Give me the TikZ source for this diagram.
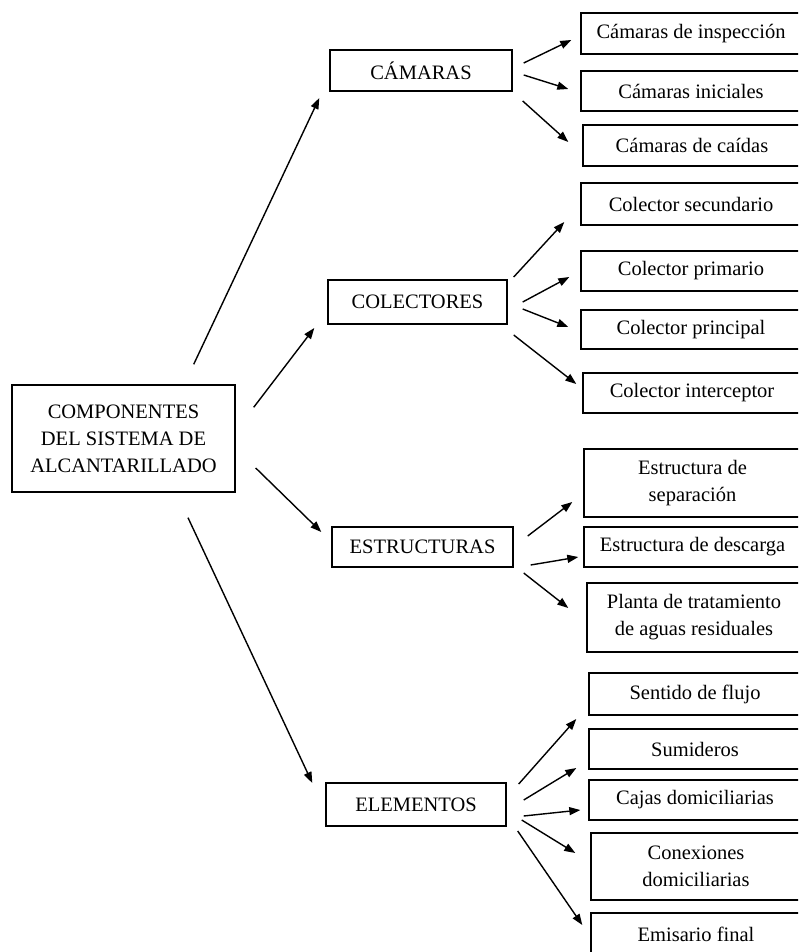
\documentclass[tikz,border=0pt]{standalone}
\usepackage{fontspec}
\setmainfont{Liberation Serif}
\usetikzlibrary{arrows.meta,calc}
\begin{document}
\begin{tikzpicture}[x=1pt,y=-1pt,
  box/.style={draw, line width=1.4pt, align=center, inner sep=0pt,
    font=\fontsize{20.5}{27}\selectfont},
  arr/.style={line width=1.4pt, -{Triangle[length=11pt,width=8pt]}}]
\useasboundingbox (0,0) rectangle (798,952);
\clip (0,0) rectangle (798,952);
% main
\node[box, minimum width=223pt, minimum height=107pt] (main) at (123.5,438.5)
  {COMPONENTES\\DEL SISTEMA DE\\ALCANTARILLADO};
% categories
\node[box, minimum width=182pt, minimum height=41pt] (cam) at (421,70.5) {CÁMARAS};
\node[box, minimum width=179pt, minimum height=44pt] (col) at (417.5,302) {COLECTORES};
\node[box, minimum width=181pt, minimum height=40pt] (est) at (422.5,547) {ESTRUCTURAS};
\node[box, minimum width=180pt, minimum height=43pt] (ele) at (416,804.5) {ELEMENTOS};
% right boxes
\node[box, minimum width=220pt, minimum height=41pt] (r1) at (691,33.5) {Cámaras de inspección};
\node[box, minimum width=220pt, minimum height=40pt] (r2) at (691,91) {Cámaras iniciales};
\node[box, minimum width=218pt, minimum height=41pt] (r3) at (692,145.5) {Cámaras de caídas};
\node[box, minimum width=220pt, minimum height=42pt] (r4) at (691,204) {Colector secundario};
\node[box, minimum width=220pt, minimum height=40pt] (r5) at (691,271) {Colector primario};
\node[box, minimum width=220pt, minimum height=39pt] (r6) at (691,329.5) {Colector principal};
\node[box, minimum width=218pt, minimum height=40pt] (r7) at (692,393) {Colector interceptor};
\node[box, minimum width=217pt, minimum height=68pt] (r8) at (692.5,483) {Estructura de\\separación};
\node[box, minimum width=217pt, minimum height=40pt] (r9) at (692.5,547) {Estructura de descarga};
\node[box, minimum width=214pt, minimum height=69pt] (r10) at (694,617.5) {Planta de tratamiento\\de aguas residuales};
\node[box, minimum width=212pt, minimum height=42pt] (r11) at (695,694) {Sentido de flujo};
\node[box, minimum width=212pt, minimum height=40pt] (r12) at (695,749) {Sumideros};
\node[box, minimum width=212pt, minimum height=40pt] (r13) at (695,800) {Cajas domiciliarias};
\node[box, minimum width=210pt, minimum height=67pt] (r14) at (696,866.5) {Conexiones\\domiciliarias};
\node[box, minimum width=210pt, minimum height=42pt] (r15) at (696,934) {Emisario final};
% arrows from main
\draw[arr] ($(main.north east)+(-42,-20)$) -- ($(cam.west)+(-10,27.5)$);
\draw[arr] ($(main.north east)+(18,23)$) -- ($(col.west)+(-13,26)$);
\draw[arr] ($(main.east)+(20,29.5)$) -- ($(est.west)+(-10,-15)$);
\draw[arr] ($(main.south)+(64.5,25)$) -- ($(ele.west)+(-13,-21.5)$);
% camaras
\draw[arr] ($(cam.east)+(11,-7.5)$) -- ($(r1.west)+(-9,6.5)$);
\draw[arr] ($(cam.east)+(11,4.5)$) -- ($(r2.west)+(-12,-2)$);
\draw[arr] ($(cam.east)+(10,30.5)$) -- ($(r3.west)+(-14,-3.5)$);
% colectores
\draw[arr] ($(col.east)+(6,-25)$) -- ($(r4.west)+(-16,18)$);
\draw[arr] ($(col.east)+(15,0)$) -- ($(r5.west)+(-11,6)$);
\draw[arr] ($(col.east)+(15,7)$) -- ($(r6.west)+(-12,-2.5)$);
\draw[arr] ($(col.east)+(6,33)$) -- ($(r7.west)+(-6,-9)$);
% estructuras
\draw[arr] ($(est.east)+(14,-11)$) -- ($(r8.west)+(-11,19)$);
\draw[arr] ($(est.east)+(17,18)$) -- ($(r9.west)+(-5,10)$);
\draw[arr] ($(est.east)+(10,26)$) -- ($(r10.west)+(-18,-9.5)$);
% elementos
\draw[arr] ($(ele.east)+(12,-20.5)$) -- ($(r11.west)+(-12,25)$);
\draw[arr] ($(ele.east)+(17,-4.5)$) -- ($(r12.west)+(-12,19)$);
\draw[arr] ($(ele.east)+(17,11.5)$) -- ($(r13.west)+(-8,10)$);
\draw[arr] ($(ele.east)+(15,15.5)$) -- ($(r14.west)+(-15,-13.5)$);
\draw[arr] ($(ele.east)+(11,26.5)$) -- ($(r15.west)+(-8,-9)$);
\end{tikzpicture}
\end{document}
